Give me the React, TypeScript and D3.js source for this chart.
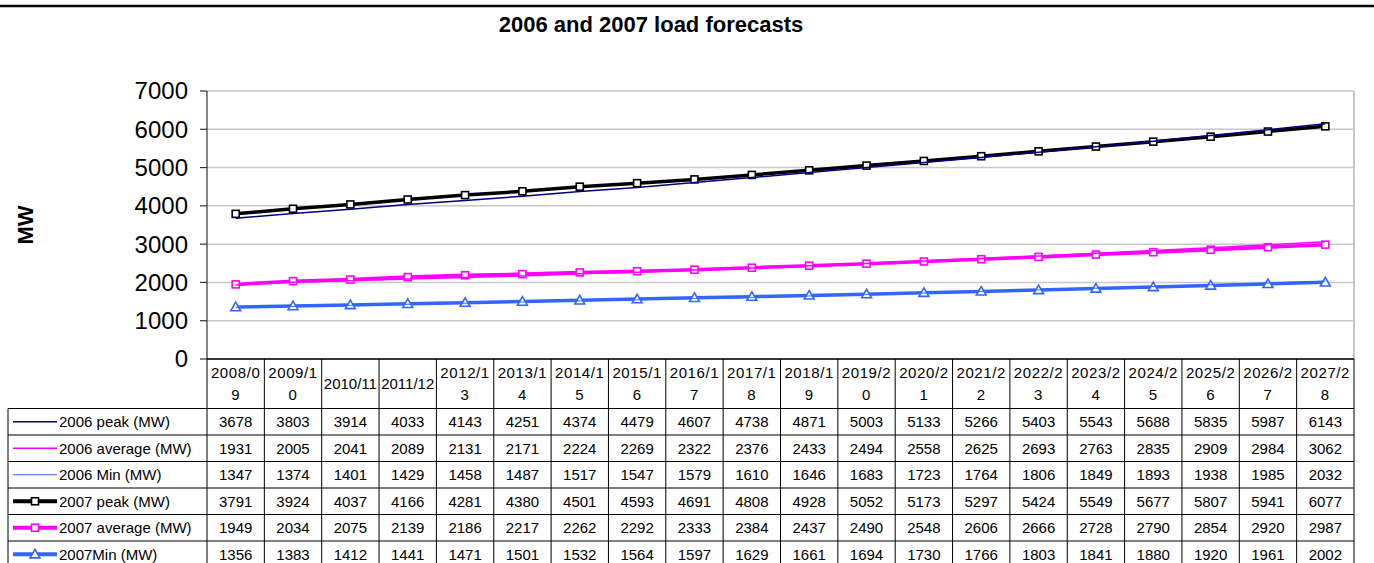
import React from "react";
import * as d3 from "d3";

const WIDTH = 1374;
const HEIGHT = 563;

const categories = [
  "2008/09", "2009/10", "2010/11", "2011/12", "2012/13", "2013/14", "2014/15",
  "2015/16", "2016/17", "2017/18", "2018/19", "2019/20", "2020/21", "2021/22",
  "2022/23", "2023/24", "2024/25", "2025/26", "2026/27", "2027/28",
];
// header cells that fit on one line in the original table
const singleLineHeaders = ["2010/11", "2011/12"];

const peak2006 = [3678, 3803, 3914, 4033, 4143, 4251, 4374, 4479, 4607, 4738, 4871, 5003, 5133, 5266, 5403, 5543, 5688, 5835, 5987, 6143];
const average2006 = [1931, 2005, 2041, 2089, 2131, 2171, 2224, 2269, 2322, 2376, 2433, 2494, 2558, 2625, 2693, 2763, 2835, 2909, 2984, 3062];
const min2006 = [1347, 1374, 1401, 1429, 1458, 1487, 1517, 1547, 1579, 1610, 1646, 1683, 1723, 1764, 1806, 1849, 1893, 1938, 1985, 2032];
const peak2007 = [3791, 3924, 4037, 4166, 4281, 4380, 4501, 4593, 4691, 4808, 4928, 5052, 5173, 5297, 5424, 5549, 5677, 5807, 5941, 6077];
const average2007 = [1949, 2034, 2075, 2139, 2186, 2217, 2262, 2292, 2333, 2384, 2437, 2490, 2548, 2606, 2666, 2728, 2790, 2854, 2920, 2987];
const min2007 = [1356, 1383, 1412, 1441, 1471, 1501, 1532, 1564, 1597, 1629, 1661, 1694, 1730, 1766, 1803, 1841, 1880, 1920, 1961, 2002];

const yTicks = [0, 1000, 2000, 3000, 4000, 5000, 6000, 7000];

type Marker = "none" | "square" | "triangle";
const series: { label: string; values: number[]; color: string; width: number; marker: Marker }[] = [
  { label: "2006 peak (MW)", values: peak2006, color: "#000080", width: 1.5, marker: "none" },
  { label: "2006 average (MW)", values: average2006, color: "#ff00ff", width: 1.5, marker: "none" },
  { label: "2006 Min (MW)", values: min2006, color: "#3366ff", width: 1, marker: "none" },
  { label: "2007 peak (MW)", values: peak2007, color: "#000000", width: 3.5, marker: "square" },
  { label: "2007 average (MW)", values: average2007, color: "#ff00ff", width: 3.5, marker: "square" },
  { label: "2007Min (MW)", values: min2007, color: "#3366ff", width: 3.5, marker: "triangle" },
];

// plot frame
const LEFT = 207;
const RIGHT = 1354;
const TOP = 91;
const BOTTOM = 359;
const TABLE_LEFT = 8;
const HEADER_H = 49.5;
const ROW_H = 26.5;
const FONT = "Arial, 'Liberation Sans', Helvetica, sans-serif";

const MarkerShape = ({ type, x, y, color }: { type: Marker; x: number; y: number; color: string }) => {
  if (type === "square") {
    return <rect x={x - 3.5} y={y - 3.5} width={7} height={7} fill="#fff" stroke={color} strokeWidth={1.6} />;
  }
  if (type === "triangle") {
    const tri = d3.symbol().type(d3.symbolTriangle).size(42)();
    return <path d={tri || ""} transform={`translate(${x},${y + 0.8})`} fill="#fff" stroke={color} strokeWidth={1.6} />;
  }
  return null;
};

const App = () => {
  const xScale = d3.scaleBand<string>().domain(categories).range([LEFT, RIGHT]).padding(0);
  const yScale = d3.scaleLinear().domain([0, 7000]).range([BOTTOM, TOP]);
  const bw = xScale.bandwidth();
  const cx = (c: string) => (xScale(c) || 0) + bw / 2;

  const lineGen = d3
    .line<number>()
    .x((_, i) => cx(categories[i]))
    .y((d) => yScale(d));

  const rowTop = (i: number) => BOTTOM + HEADER_H + i * ROW_H;
  const tableBottom = rowTop(series.length);

  // draw 2007 series first, then the thin 2006 ones on top
  const drawOrder = [3, 4, 5, 0, 1, 2];

  return (
    <svg
      width={WIDTH}
      height={HEIGHT}
      style={{ position: "absolute", left: 0, top: 0, background: "#fff" }}
      fontFamily={FONT}
    >
      <rect width={WIDTH} height={HEIGHT} fill="#fff" />
      <line x1={0} x2={WIDTH} y1={6} y2={6} stroke="#000" strokeWidth={2.5} />
      <text x={651} y={32} textAnchor="middle" fontSize={22} fontWeight="bold">
        2006 and 2007 load forecasts
      </text>

      {/* gridlines */}
      {yTicks.map((t) => (
        <line key={t} x1={LEFT} x2={RIGHT} y1={yScale(t)} y2={yScale(t)} stroke="#c8c8c8" strokeWidth={1.5} />
      ))}
      {/* plot frame right side */}
      <line x1={RIGHT} x2={RIGHT} y1={TOP} y2={BOTTOM} stroke="#c8c8c8" strokeWidth={2} />

      {/* y axis */}
      <line x1={LEFT} x2={LEFT} y1={TOP} y2={BOTTOM} stroke="#333" strokeWidth={1.2} />
      {yTicks.map((t) => (
        <g key={t}>
          <line x1={LEFT - 7} x2={LEFT} y1={yScale(t)} y2={yScale(t)} stroke="#333" strokeWidth={1.2} />
          <text x={188} y={yScale(t)} dy="0.35em" textAnchor="end" fontSize={24}>
            {t}
          </text>
        </g>
      ))}
      <text transform="translate(33,225) rotate(-90)" textAnchor="middle" fontSize={22} fontWeight="bold">
        MW
      </text>

      {/* lines */}
      {drawOrder.map((si) => {
        const s = series[si];
        return (
          <g key={s.label}>
            <path d={lineGen(s.values) || ""} fill="none" stroke={s.color} strokeWidth={s.width} strokeLinejoin="round" />
            {s.values.map((v, i) => (
              <MarkerShape key={i} type={s.marker} x={cx(categories[i])} y={yScale(v)} color={s.color} />
            ))}
          </g>
        );
      })}

      {/* data table */}
      <g stroke="#000" strokeWidth={1}>
        <line x1={LEFT} x2={RIGHT} y1={BOTTOM} y2={BOTTOM} strokeWidth={1.5} />
        {d3.range(series.length + 1).map((i) => (
          <line key={i} x1={TABLE_LEFT} x2={RIGHT} y1={rowTop(i)} y2={rowTop(i)} />
        ))}
        <line x1={TABLE_LEFT} x2={TABLE_LEFT} y1={rowTop(0)} y2={tableBottom} />
        {categories.map((c) => (
          <line key={c} x1={xScale(c)} x2={xScale(c)} y1={BOTTOM} y2={tableBottom} />
        ))}
        <line x1={RIGHT} x2={RIGHT} y1={BOTTOM} y2={tableBottom} />
      </g>

      {categories.map((c) => {
        const single = singleLineHeaders.includes(c);
        const lines = single ? [c] : [c.slice(0, 6), c.slice(6)];
        const mid = BOTTOM + HEADER_H / 2;
        return (
          <text key={c} x={cx(c)} textAnchor="middle" fontSize={15} letterSpacing={single ? 0 : 0.6}>
            {lines.map((l, k) => (
              <tspan key={k} x={cx(c)} y={mid + (k - (lines.length - 1) / 2) * 22} dy="0.35em">
                {l}
              </tspan>
            ))}
          </text>
        );
      })}

      {series.map((s, si) => {
        const y = rowTop(si) + ROW_H / 2;
        return (
          <g key={s.label}>
            <line x1={13} x2={57} y1={y} y2={y} stroke={s.color} strokeWidth={s.marker === "none" ? s.width : 4} />
            <MarkerShape type={s.marker} x={35} y={y} color={s.color} />
            <text x={59} y={y} dy="0.35em" fontSize={15}>
              {s.label}
            </text>
            {s.values.map((v, i) => (
              <text key={i} x={cx(categories[i])} y={y} dy="0.35em" textAnchor="middle" fontSize={15}>
                {v}
              </text>
            ))}
          </g>
        );
      })}
    </svg>
  );
};

export default App;
